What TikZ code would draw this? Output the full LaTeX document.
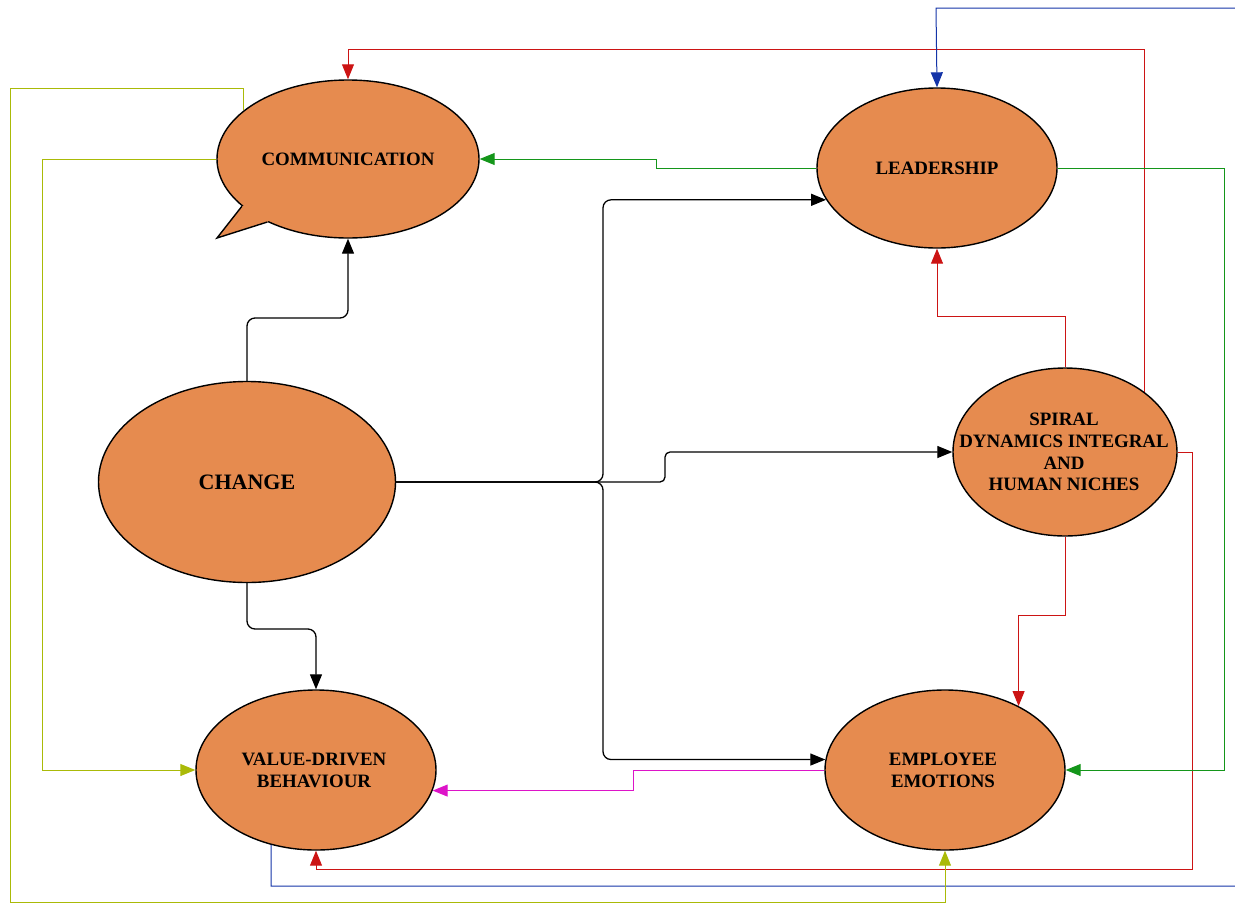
\documentclass[tikz,border=0pt]{standalone}
\usepackage{fontspec}
\setmainfont{Liberation Serif}
\usetikzlibrary{shapes.geometric,arrows.meta}
\definecolor{bubble}{HTML}{E68B4F}
\definecolor{linkred}{HTML}{CC1414}
\definecolor{linkgreen}{HTML}{14961A}
\definecolor{linkblue}{HTML}{1434A8}
\definecolor{linkolive}{HTML}{AABA08}
\definecolor{linkpink}{HTML}{DD14C8}
\begin{document}
\begin{tikzpicture}[x=1pt,y=-1pt,
  blob/.style={ellipse, draw=black, line width=1.4pt, fill=bubble, inner sep=0pt},
  caption/.style={font=\bfseries\fontsize{18.9}{21.7}\selectfont, align=center, inner sep=0pt},
  link/.style={line width=1pt, -{Triangle[length=15pt,width=12pt]}},
  flow/.style={link, black, line width=1.3pt, rounded corners=8pt},
]
\useasboundingbox (0,0) rectangle (1235,903);

% concept ellipses
\node[blob, minimum width=262pt, minimum height=158pt] (comm) at (348,159) {};
% speech-bubble tail of the communication node
\fill[bubble] (comm.204.5) -- (217,238) -- (comm.218.9) -- (300,190) -- cycle;
\draw[line width=1.4pt, miter limit=20] (comm.204.5) -- (217,238) -- (comm.218.9);

\node[blob, minimum width=240pt, minimum height=160pt] (lead) at (937,168) {};
\node[blob, minimum width=297pt, minimum height=201pt] (chg)  at (247,482) {};
\node[blob, minimum width=224pt, minimum height=168pt] (spi)  at (1065,452) {};
\node[blob, minimum width=240pt, minimum height=160pt] (val)  at (316,770) {};
\node[blob, minimum width=240pt, minimum height=160pt] (emp)  at (945,770) {};

% captions
\node[caption] (comm-t) at (comm.center) {COMMUNICATION};
\node[caption] (lead-t) at (lead.center) {LEADERSHIP};
\node[caption, font=\bfseries\fontsize{22}{26}\selectfont] (chg-t) at (chg.center) {CHANGE};
\node[caption] (spi-t) at (1064,452) {SPIRAL\\DYNAMICS INTEGRAL\\AND\\HUMAN NICHES};
\node[caption] (val-t) at (314,770.5) {VALUE-DRIVEN\\BEHAVIOUR};
\node[caption] (emp-t) at (943,770.5) {EMPLOYEE\\EMOTIONS};

% change drives everything
\draw[flow] (chg.north) -- (247,318) -| (comm.south);
\draw[flow] (chg.east) -- (603,482) |- (lead.196.2);
\draw[flow, rounded corners=5pt] (chg.east) -- (665,482) |- (spi.west);
\draw[flow] (chg.east) -- (603,482) |- (emp.175.2);
\draw[flow] (chg.south) -- (247,629) -| (val.north);

% spiral dynamics feedback (red)
\draw[link, linkred] (spi.north) -- (1065,316) -| (lead.south);
\draw[link, linkred] (spi.37) |- (348,49) -- (comm.north);
\draw[link, linkred] (spi.east) -- (1192,452) |- (316,869) -- (val.south);
\draw[link, linkred] (spi.south) -- (1065,615) -| (emp.41.6);

% leadership (green)
\draw[link, linkgreen] (lead.west) -- (656,168) |- (comm.east);
\draw[link, linkgreen] (lead.east) -- (1224,168) |- (emp.east);

% value-driven behaviour back to leadership (blue), routed round the right edge
\draw[link, linkblue] (val.239.4) |- (1250,886) |- (936,8) -- (lead.north);

% communication (olive)
\draw[link, linkolive] (comm.155) |- (10,88) |- (945,902) -- (emp.south);
\draw[link, linkolive] (comm.west) -- (42,159) |- (val.west);

% employee emotions (pink)
\draw[link, linkpink] (emp.west) -- (633,770) |- (val.-10.3);
\end{tikzpicture}
\end{document}
